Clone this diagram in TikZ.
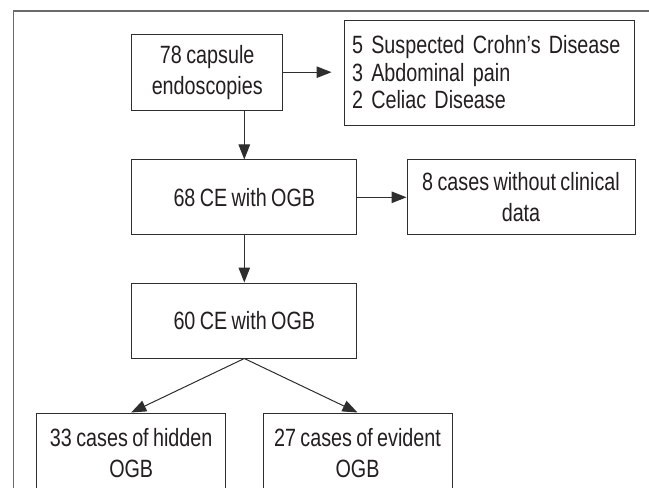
\documentclass[tikz,border=0pt]{standalone}
\usepackage{fontspec}
\setmainfont{Liberation Sans}[FakeStretch=0.79,WordSpace=0.8]
\usetikzlibrary{arrows.meta,calc}
\definecolor{linec}{HTML}{2E2E2E}
\definecolor{framec}{HTML}{6A6A6A}
\definecolor{txt}{HTML}{231F20}
\begin{document}
\begin{tikzpicture}[x=1pt,y=-1pt,
  box/.style={draw=linec, line width=1pt, rectangle, inner sep=0pt, align=center,
    font=\fontsize{25}{31}\selectfont, text=txt},
  listbox/.style={draw=linec, line width=1pt, rectangle, inner ysep=0pt, inner xsep=8pt,
    align=left, font=\fontsize{25}{27.5}\selectfont, text=txt},
  arr/.style={draw=linec, line width=1pt, -{Triangle[length=15pt,width=11.5pt]}}]
\useasboundingbox (0,0) rectangle (649,488);
\clip (0,0) rectangle (649,488);
\fill[white] (0,0) rectangle (649,488);
\draw[framec, line width=1.3pt] (13.3,490) -- (13.3,11) -- (650,11);
\node[box, minimum width=151pt, minimum height=75.7pt] (b1) at (207.2,72.2) {78 capsule\\endoscopies};
\node[listbox, minimum width=290pt, minimum height=105pt, text width=274pt] (b2) at (489,72.5)
  {5 Suspected Crohn’s Disease\\3 Abdominal pain\\2 Celiac Disease};
\node[box, minimum width=225.3pt, minimum height=74.7pt] (b3) at (244.3,197.3) {68 CE with OGB};
\node[box, minimum width=228pt, minimum height=74.7pt] (b4) at (521,197.3) {8 cases without clinical\\data};
\node[box, minimum width=225.3pt, minimum height=75pt] (b5) at (244.3,320.5) {60 CE with OGB};
\node[box, minimum width=189pt, minimum height=80pt] (b6) at (131.2,453) {33 cases of hidden\\OGB};
\node[box, minimum width=189pt, minimum height=80pt] (b7) at (357.5,453) {27 cases of evident\\OGB};
\draw[arr, shorten >=12pt] (b1.east) -- (b1.east -| b2.west);
\draw[arr] (b3.north |- b1.south) -- (b3.north);
\draw[arr] (b3.east) -- (b4.west);
\draw[arr] (b3.south) -- (b5.north);
\draw[arr] (b5.south) -- (b6.north);
\draw[arr] (b5.south) -- (b7.north);
\end{tikzpicture}
\end{document}
